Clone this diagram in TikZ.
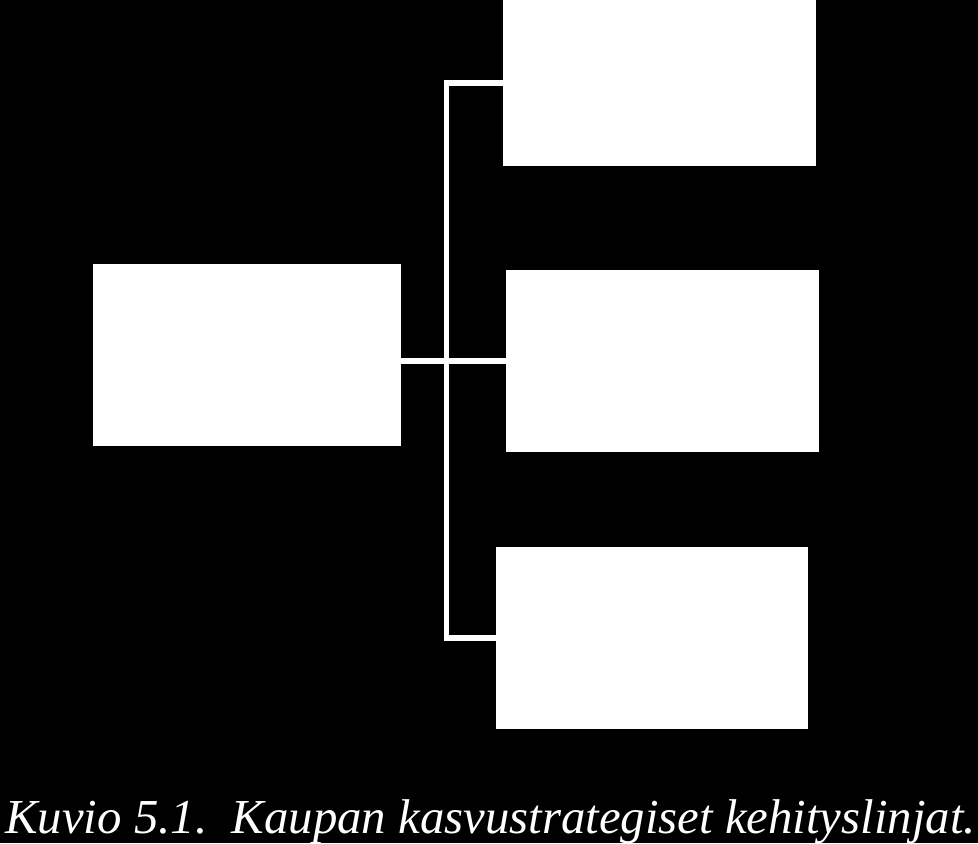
\documentclass[tikz,border=0pt]{standalone}
\usepackage{fontspec}
\setmainfont{Liberation Serif}

\tikzset{
	box/.style={fill=white, draw=none, inner sep=0pt},
	link/.style={draw=white, line width=3.6pt}
}

\begin{document}
\begin{tikzpicture}[x=0.025cm, y=-0.025cm]
	\fill[black] (0, 0) rectangle (978, 843);
	\useasboundingbox (0, 0) rectangle (978, 843);
	\node[box, minimum width=7.7cm, minimum height=4.55cm] (main) at (247, 355) {};
	\node[box, minimum width=7.825cm, minimum height=4.15cm] (top) at (659.5, 83) {};
	\node[box, minimum width=7.825cm, minimum height=4.55cm] (mid) at (662.5, 361) {};
	\node[box, minimum width=7.8cm, minimum height=4.55cm] (bot) at (652, 638) {};
	\coordinate (trunk) at (446.5, 0);
	\draw[link] (top.west) -| (trunk |- bot.west) -- (bot.west);
	\draw[link] (main.east |- mid.west) -- (mid.west);
	\node[anchor=base west, inner sep=0pt, text=white] (caption) at (5, 833)
		{\resizebox{24.25cm}{!}{\itshape Kuvio 5.1.\ \ Kaupan kasvustrategiset kehityslinjat.}};
\end{tikzpicture}
\end{document}
